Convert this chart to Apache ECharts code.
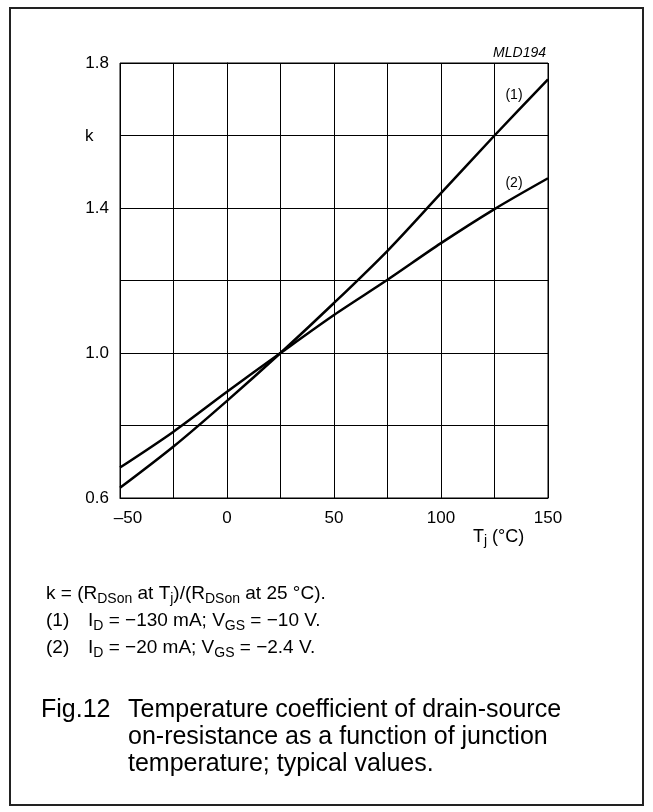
<!DOCTYPE html>
<html>
<head>
<meta charset="utf-8">
<script src="https://cdn.jsdelivr.net/npm/echarts@6/dist/echarts.min.js"></script>
<style>
html,body{margin:0;padding:0;background:#fff;}
#chart{width:653px;height:812px;}
</style>
</head>
<body>
<div id="chart"></div>
<script>
// Junction temperature (°C)
const temps = [-50, -25, 0, 25, 50, 75, 100, 125, 150];
// Curve (1): ID = -130 mA; VGS = -10 V
const k1 = [0.628, 0.742, 0.868, 1.0, 1.138, 1.282, 1.441, 1.6, 1.755];
// Curve (2): ID = -20 mA; VGS = -2.4 V
const k2 = [0.684, 0.783, 0.893, 1.0, 1.105, 1.202, 1.303, 1.397, 1.482];
const xTickLabels = [-50, 0, 50, 100, 150];
const yTickLabels = [0.6, 1.0, 1.4, 1.8];

const FONT = 'Liberation Sans, Arial, Helvetica, sans-serif';
const chart = echarts.init(document.getElementById('chart'), null, {renderer: 'canvas'});

const pair = (ys) => temps.map((t, i) => [t, ys[i]]);

const noteRich = {
  n: {fontSize: 19, fontFamily: FONT, color: '#000', lineHeight: 24, verticalAlign: 'middle'},
  s: {fontSize: 14, fontFamily: FONT, color: '#000', lineHeight: 14, verticalAlign: 'bottom'}
};
const capStyle = (t) => ({text: t, fontSize: 25, fontFamily: FONT, fill: '#000', textAlign: 'left', textVerticalAlign: 'middle'});

const option = {
  backgroundColor: '#fff',
  animation: false,
  grid: {left: 120, right: 105, top: 63, bottom: 314, show: true, borderColor: '#000', borderWidth: 1},
  xAxis: {
    type: 'value', min: -50, max: 150, interval: 25,
    axisLine: {show: true, lineStyle: {color: '#000', width: 1}},
    axisTick: {show: false},
    splitLine: {show: true, lineStyle: {color: '#000', width: 1}},
    axisLabel: {
      margin: 12, color: '#000', fontSize: 17, fontFamily: FONT,
      formatter: v => xTickLabels.indexOf(v) >= 0 ? (v < 0 ? '{neg|\u2013' + (-v) + '}' : String(v)) : '',
      rich: {neg: {fontSize: 17, fontFamily: FONT, color: '#000', padding: [0, 0, 0, 16]}}
    }
  },
  yAxis: {
    type: 'value', min: 0.6, max: 1.8, interval: 0.2,
    axisLine: {show: true, lineStyle: {color: '#000', width: 1}},
    axisTick: {show: false},
    splitLine: {show: true, lineStyle: {color: '#000', width: 1}},
    axisLabel: {
      margin: 11, color: '#000', fontSize: 17, fontFamily: FONT,
      formatter: v => {
        const r = Math.round(v * 10) / 10;
        return yTickLabels.some(t => Math.abs(t - r) < 1e-6) ? r.toFixed(1) : '';
      }
    }
  },
  series: [
    {type: 'line', name: '(1)', data: pair(k1), smooth: 0.3, symbol: 'none',
     lineStyle: {color: '#000', width: 2.5}},
    {type: 'line', name: '(2)', data: pair(k2), smooth: 0.3, symbol: 'none',
     lineStyle: {color: '#000', width: 2.5}}
  ],
  graphic: [
    {type: 'rect', shape: {x: 10, y: 8, width: 633, height: 797},
     style: {fill: 'none', stroke: '#222', lineWidth: 2}, z: 10},
    {type: 'text', x: 85, y: 136,
     style: {text: 'k', fontSize: 17, fontFamily: FONT, fill: '#000', textAlign: 'left', textVerticalAlign: 'middle'}},
    {type: 'text', x: 546, y: 53,
     style: {text: 'MLD194', fontSize: 14, fontStyle: 'italic', fontFamily: FONT, fill: '#000', textAlign: 'right', textVerticalAlign: 'middle'}},
    {type: 'text', x: 514, y: 95,
     style: {text: '(1)', fontSize: 14, fontFamily: FONT, fill: '#000', textAlign: 'center', textVerticalAlign: 'middle'}},
    {type: 'text', x: 514, y: 183,
     style: {text: '(2)', fontSize: 14, fontFamily: FONT, fill: '#000', textAlign: 'center', textVerticalAlign: 'middle'}},
    {type: 'text', x: 473, y: 537,
     style: {text: '{n|T}{s|j}{n| (\u00b0C)}', textAlign: 'left', textVerticalAlign: 'middle',
       rich: {
         n: {fontSize: 18, fontFamily: FONT, color: '#000', lineHeight: 22, verticalAlign: 'middle'},
         s: {fontSize: 14, fontFamily: FONT, color: '#000', lineHeight: 14, verticalAlign: 'bottom'}
       }}},
    {type: 'text', x: 46, y: 594,
     style: {text: '{n|k = (R}{s|DSon}{n| at T}{s|j}{n|)/(R}{s|DSon}{n| at 25 \u00b0C).}',
       textAlign: 'left', textVerticalAlign: 'middle', rich: noteRich}},
    {type: 'text', x: 46, y: 621,
     style: {text: '{n|(1)}', textAlign: 'left', textVerticalAlign: 'middle', rich: noteRich}},
    {type: 'text', x: 88, y: 621,
     style: {text: '{n|I}{s|D}{n| = \u2212130 mA; V}{s|GS}{n| = \u221210 V.}',
       textAlign: 'left', textVerticalAlign: 'middle', rich: noteRich}},
    {type: 'text', x: 46, y: 648,
     style: {text: '{n|(2)}', textAlign: 'left', textVerticalAlign: 'middle', rich: noteRich}},
    {type: 'text', x: 88, y: 648,
     style: {text: '{n|I}{s|D}{n| = \u221220 mA; V}{s|GS}{n| = \u22122.4 V.}',
       textAlign: 'left', textVerticalAlign: 'middle', rich: noteRich}},
    {type: 'text', x: 41, y: 710, style: capStyle('Fig.12')},
    {type: 'text', x: 128, y: 710, style: capStyle('Temperature coefficient of drain-source')},
    {type: 'text', x: 128, y: 737, style: capStyle('on-resistance as a function of junction')},
    {type: 'text', x: 128, y: 764, style: capStyle('temperature; typical values.')}
  ]
};
chart.setOption(option);
</script>
</body>
</html>
